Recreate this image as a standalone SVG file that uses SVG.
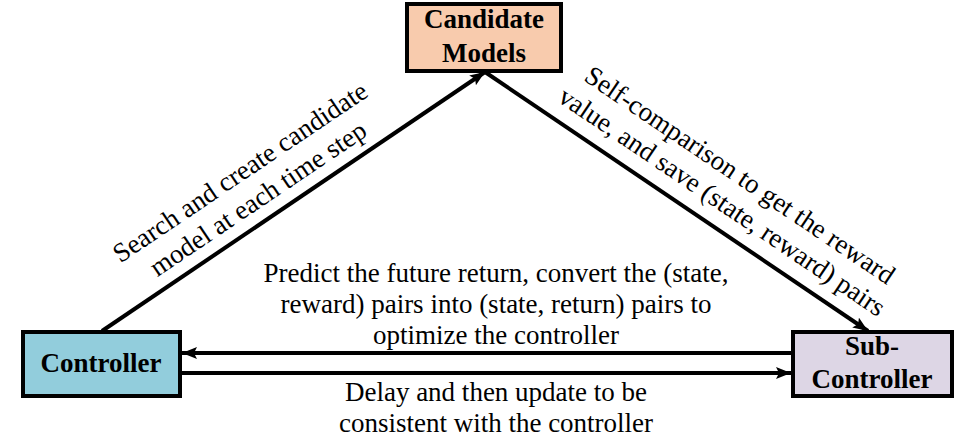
<svg xmlns="http://www.w3.org/2000/svg" width="964" height="442" viewBox="0 0 964 442">
<style>
.box{stroke:#000;stroke-width:4}
.title{font-family:"Liberation Serif","Times New Roman",serif;font-weight:bold;font-size:27px;fill:#000;text-anchor:middle}
.lbl{font-family:"Liberation Serif","Times New Roman",serif;font-size:27px;fill:#000;text-anchor:middle}
.edge{stroke:#000;stroke-width:4;fill:none;marker-end:url(#ah)}
</style>
<defs>
<marker id="ah" markerUnits="userSpaceOnUse" markerWidth="16" markerHeight="14" refX="15" refY="6" orient="auto">
<path d="M0,0 L15,6 L0,12 L3,6 z" fill="#000"/>
</marker>
</defs>
<g id="connectors">
<line class="edge" x1="102" y1="331" x2="485" y2="72"/>
<line class="edge" x1="485" y1="72" x2="868" y2="331"/>
<line class="edge" x1="793" y1="353" x2="182" y2="353"/>
<line class="edge" x1="180" y1="373" x2="791" y2="373"/>
</g>
<g id="candidate-models">
<rect class="box" x="407" y="4" width="154" height="67" fill="#F8CBAD"/>
<text class="title" x="484" y="28">Candidate</text>
<text class="title" x="484" y="62">Models</text>
</g>
<g id="controller">
<rect class="box" x="23" y="332" width="157" height="64" fill="#92CDDC"/>
<text class="title" x="101" y="372">Controller</text>
</g>
<g id="sub-controller">
<rect class="box" x="793" y="332" width="159" height="64" fill="#DDD6E5"/>
<text class="title" x="872" y="355">Sub-</text>
<text class="title" x="872" y="388">Controller</text>
</g>
<g id="labels">
<g transform="translate(240,172) rotate(-34)">
<text class="lbl" x="0" y="9">Search and create candidate</text>
<text class="lbl" x="0" y="41">model at each time step</text>
</g>
<g transform="translate(740,175) rotate(34)">
<text class="lbl" x="0" y="9">Self-comparison to get the reward</text>
<text class="lbl" x="0" y="41">value, and save (state, reward) pairs</text>
</g>
<text class="lbl" x="496" y="282">Predict the future return, convert the (state,</text>
<text class="lbl" x="496" y="313">reward) pairs into (state, return) pairs to</text>
<text class="lbl" x="496" y="344">optimize the controller</text>
<text class="lbl" x="496" y="401">Delay and then update to be</text>
<text class="lbl" x="496" y="432">consistent with the controller</text>
</g>
</svg>
